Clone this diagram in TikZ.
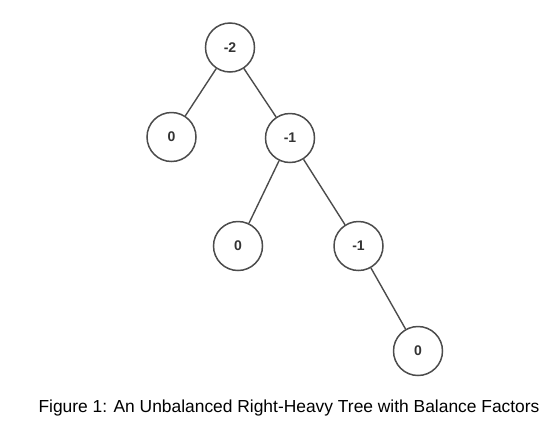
\documentclass[tikz,border=0pt]{standalone}
\usepackage{fontspec}
\setmainfont{Liberation Sans}
\usetikzlibrary{positioning}

\begin{document}
\begin{tikzpicture}[
  x=1pt, y=-1pt,
  bf/.style={draw=black!70, circle, line width=1.5pt, minimum size=49pt,
             inner sep=0pt, fill=white, font=\fontsize{14}{16}\selectfont\bfseries,
             text=black!80},
  edge/.style={draw=black!70, line width=1.4pt}
]
\useasboundingbox (0,0) rectangle (546,437);

% Nodes with balance factors
\node[bf] (root) at (230,47.5) {-2};
\node[bf] (l)    at (171.5,137) {0};
\node[bf] (r)    at (290,138) {-1};
\node[bf] (rl)   at (238,246) {0};
\node[bf] (rr)   at (358.5,246) {-1};
\node[bf] (rrr)  at (418,351) {0};

% Edges
\draw[edge] (root) -- (l);
\draw[edge] (root) -- (r);
\draw[edge] (r) -- (rl);
\draw[edge] (r) -- (rr);
\draw[edge] (rr) -- (rrr);

% Caption
\node[font=\fontsize{17.4}{20}\selectfont, anchor=base] (caption) at (289,412)
  {Figure 1: An Unbalanced Right-Heavy Tree with Balance Factors};
\end{tikzpicture}
\end{document}
